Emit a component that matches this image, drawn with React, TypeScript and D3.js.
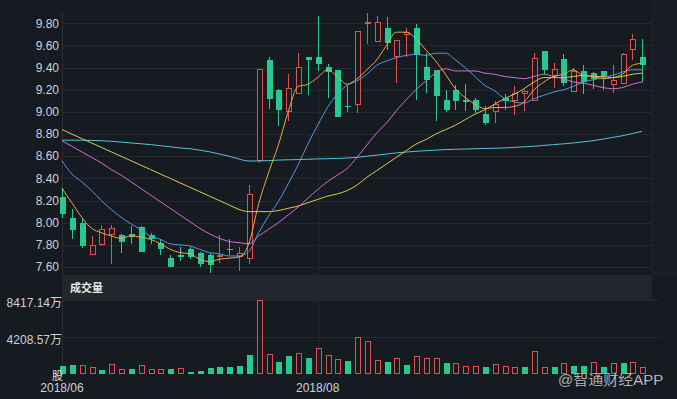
import * as d3 from "d3";
import { useEffect, useRef } from "react";

// daily candles, 2018/06 .. 2018/09 (index 26 = first trading day of 2018/08)
const opens = [
  8.23, 8.04, 8.0, 7.71, 7.8, 7.89, 7.89, 7.9, 7.96, 7.89,
  7.82, 7.68, 7.71, 7.76, 7.73, 7.71, 7.7, 7.76, 7.69, 7.67,
  8.56, 9.47, 9.2, 9.0, 9.16, 9.5, 9.5, 9.41, 9.38, 9.05,
  9.06, 9.79, 9.63, 9.76, 9.5, 9.69, 9.76, 9.41, 9.38, 9.11,
  9.2, 9.11, 9.11, 8.98, 9.0, 9.13, 9.1, 9.16, 9.1, 9.55,
  9.32, 9.48, 9.18, 9.37, 9.35, 9.37, 9.24, 9.25, 9.56, 9.5,
];
const highs = [
  8.31, 8.12, 8.04, 7.88, 7.98, 7.98, 7.9, 7.97, 7.97, 7.91,
  7.85, 7.71, 7.78, 7.78, 7.74, 7.73, 7.89, 7.85, 7.78, 8.34,
  9.39, 9.5, 9.21, 9.34, 9.53, 9.5, 9.87, 9.43, 9.38, 9.23,
  9.73, 9.89, 9.87, 9.86, 9.65, 9.76, 9.79, 9.53, 9.38, 9.2,
  9.24, 9.25, 9.13, 9.05, 9.1, 9.16, 9.23, 9.2, 9.53, 9.55,
  9.44, 9.52, 9.4, 9.42, 9.36, 9.37, 9.42, 9.53, 9.7, 9.66,
];
const lows = [
  8.04, 7.85, 7.77, 7.71, 7.79, 7.63, 7.73, 7.81, 7.74, 7.81,
  7.71, 7.6, 7.65, 7.67, 7.6, 7.55, 7.64, 7.71, 7.56, 7.63,
  8.54, 9.03, 8.87, 8.92, 9.16, 9.15, 9.37, 9.13, 8.95, 9.0,
  8.99, 9.61, 9.63, 9.56, 9.26, 9.5, 9.11, 9.17, 8.92, 9.0,
  9.02, 9.01, 8.99, 8.88, 8.9, 9.02, 8.97, 9.01, 9.1, 9.34,
  9.22, 9.23, 9.18, 9.16, 9.21, 9.2, 9.17, 9.25, 9.47, 9.27,
];
const closes = [
  8.08, 7.93, 7.79, 7.8, 7.94, 7.95, 7.83, 7.87, 7.74, 7.85,
  7.76, 7.6, 7.69, 7.69, 7.63, 7.62, 7.71, 7.75, 7.73, 8.26,
  9.39, 9.12, 9.02, 9.22, 9.41, 9.47, 9.43, 9.36, 8.95, 9.04,
  9.73, 9.81, 9.81, 9.62, 9.65, 9.72, 9.51, 9.29, 9.14, 9.02,
  9.1, 9.09, 9.02, 8.9, 9.07, 9.1, 9.17, 9.19, 9.49, 9.38,
  9.39, 9.26, 9.37, 9.27, 9.3, 9.32, 9.29, 9.52, 9.66, 9.42,
];

const ma5 = [
  8.31, 8.18, 8.05, 7.95, 7.91, 7.88, 7.86, 7.88, 7.87, 7.85,
  7.81, 7.76, 7.73, 7.72, 7.67, 7.65, 7.67, 7.68, 7.69, 7.81,
  8.17, 8.45, 8.7, 9.0, 9.23, 9.25, 9.31, 9.38, 9.32, 9.25,
  9.3, 9.38, 9.47, 9.6, 9.72, 9.72, 9.66, 9.56, 9.46, 9.34,
  9.21, 9.13, 9.07, 9.03, 9.04, 9.04, 9.05, 9.09, 9.2, 9.27,
  9.32, 9.34, 9.38, 9.33, 9.32, 9.3, 9.31, 9.34, 9.42, 9.44,
];
const ma10 = [
  8.56, 8.44, 8.37, 8.29, 8.2, 8.12, 8.05, 7.99, 7.94, 7.88,
  7.85, 7.81, 7.8, 7.79, 7.76, 7.73, 7.72, 7.7, 7.7, 7.74,
  7.91, 8.06, 8.19, 8.35, 8.52, 8.71, 8.88, 9.04, 9.16, 9.24,
  9.28, 9.34, 9.42, 9.46, 9.49, 9.51, 9.52, 9.51, 9.53, 9.53,
  9.47, 9.4, 9.32, 9.24, 9.19, 9.12, 9.09, 9.08, 9.12, 9.15,
  9.18, 9.2, 9.23, 9.27, 9.29, 9.31, 9.33, 9.36, 9.38, 9.38,
];
const ma20 = [
  8.74, 8.69, 8.64, 8.59, 8.54, 8.48, 8.43, 8.37, 8.31, 8.25,
  8.19, 8.13, 8.07, 8.01, 7.95, 7.9, 7.86, 7.83, 7.82, 7.81,
  7.88, 7.94, 8.0, 8.07, 8.14, 8.22, 8.3, 8.37, 8.43, 8.49,
  8.59, 8.7, 8.81, 8.9, 9.01, 9.11, 9.2, 9.28, 9.35, 9.39,
  9.37, 9.37, 9.37, 9.35, 9.34, 9.32, 9.31, 9.3, 9.32, 9.34,
  9.32, 9.3, 9.27, 9.26, 9.24, 9.22, 9.21, 9.22, 9.25, 9.27,
];
const ma30 = [
  8.84, 8.8, 8.76, 8.72, 8.68, 8.64, 8.6, 8.56, 8.52, 8.48,
  8.44, 8.4, 8.36, 8.32, 8.28, 8.24, 8.2, 8.16, 8.12, 8.1,
  8.1, 8.1, 8.11, 8.13, 8.15, 8.18, 8.21, 8.24, 8.26, 8.29,
  8.34, 8.41, 8.47, 8.53, 8.59, 8.65, 8.71, 8.75, 8.8, 8.84,
  8.88, 8.93, 8.98, 9.02, 9.07, 9.12, 9.16, 9.21, 9.27, 9.31,
  9.31, 9.31, 9.32, 9.33, 9.32, 9.32, 9.31, 9.32, 9.34, 9.35,
];
const ma60 = [
  8.745, 8.745, 8.745, 8.743, 8.74, 8.735, 8.728, 8.72, 8.713, 8.705,
  8.695, 8.685, 8.675, 8.668, 8.655, 8.64, 8.62, 8.6, 8.575, 8.557,
  8.558, 8.56, 8.565, 8.568, 8.57, 8.573, 8.576, 8.578, 8.58, 8.584,
  8.59, 8.6, 8.61, 8.62, 8.63, 8.638, 8.645, 8.65, 8.655, 8.66,
  8.663, 8.665, 8.668, 8.67, 8.672, 8.675, 8.68, 8.685, 8.69, 8.698,
  8.705, 8.712, 8.72, 8.73, 8.74, 8.755, 8.77, 8.785, 8.805, 8.825,
];

// volume in 万股, and whether its bar is drawn red
const volumes = [
  870, 980, 980, 790, 420, 1170, 600, 600, 1020, 570,
  570, 570, 680, 260, 340, 720, 790, 790, 940, 2190,
  8417.14, 2300, 1400, 2080, 2380, 1780, 2950, 2150, 1700, 1470,
  4190, 3700, 1550, 1400, 1810, 1060, 2040, 1850, 1850, 1250,
  1280, 870, 870, 760, 1100, 910, 760, 760, 2570, 790,
  760, 1250, 910, 910, 1360, 760, 1250, 1250, 1360, 760,
];
const volUp = "ggrrgrrgrrrgrgggggggrrggrgrrrgrrrgrgrrrgrrrgrrrgrrgrggrgrgrr"
  .split("")
  .map((c) => c === "r");

const priceTicks = [7.6, 7.8, 8.0, 8.2, 8.4, 8.6, 8.8, 9.0, 9.2, 9.4, 9.6, 9.8];
const volTicks = [4208.57, 8417.14];
const volTickLabels = ["4208.57万", "8417.14万"];
const xTickIndex = [0, 26];
const xTickLabels = ["2018/06", "2018/08"];

const W = 677;
const H = 399;
const LEFT = 62;
const RIGHT = 652;
const P_TOP = 13;
const P_BOTTOM = 275;
const BAND_BOTTOM = 300;
const V_BOTTOM = 374;

const BG = "#161a21";
const GRID = "#232830";
const TEXT = "#cfd2d7";
const RED = "#e0514d";
const GREEN = "#26c98f";
const FONT = "'Liberation Sans', Arial, 'Noto Sans CJK SC', sans-serif";

const lines = [
  { values: ma60, color: "#55c5d6" },
  { values: ma30, color: "#e3c84e" },
  { values: ma20, color: "#d36fd4" },
  { values: ma10, color: "#4b9de6" },
  { values: ma5, color: "#f2a548" },
];

export default function App() {
  const svgRef = useRef<SVGSVGElement>(null);

  useEffect(() => {
    document.body.style.margin = "0";
    if (!svgRef.current) return;
    const svg = d3.select(svgRef.current);
    svg.selectAll("*").remove();

    const x = d3.scaleLinear().domain([0, closes.length]).range([LEFT, RIGHT]);
    const y = d3.scaleLinear().domain([7.528, 9.893]).range([P_BOTTOM, P_TOP]);
    const vy = d3.scaleLinear().domain([0, 8417.14]).range([V_BOTTOM, BAND_BOTTOM]);
    const px = (i: number) => Math.round(x(i));

    svg.append("rect").attr("width", W).attr("height", H).attr("fill", BG);
    svg
      .append("rect")
      .attr("x", RIGHT)
      .attr("width", W - RIGHT)
      .attr("height", P_BOTTOM)
      .attr("fill", "#191d24");

    // grid
    svg
      .selectAll(".pgrid")
      .data(priceTicks)
      .enter()
      .append("line")
      .attr("x1", LEFT)
      .attr("x2", RIGHT)
      .attr("y1", (d) => Math.round(y(d)) + 0.5)
      .attr("y2", (d) => Math.round(y(d)) + 0.5)
      .attr("stroke", GRID);

    svg
      .selectAll(".vgrid")
      .data(volTicks)
      .enter()
      .append("line")
      .attr("x1", LEFT)
      .attr("x2", 660)
      .attr("y1", (d) => Math.round(vy(d)) + 0.5)
      .attr("y2", (d) => Math.round(vy(d)) + 0.5)
      .attr("stroke", GRID);

    svg
      .selectAll(".xgrid")
      .data(xTickIndex.slice(1))
      .enter()
      .append("line")
      .attr("x1", (d) => px(d) + 0.5)
      .attr("x2", (d) => px(d) + 0.5)
      .attr("y1", P_TOP)
      .attr("y2", V_BOTTOM)
      .attr("stroke", GRID);

    svg
      .append("line")
      .attr("x1", LEFT + 0.5)
      .attr("x2", LEFT + 0.5)
      .attr("y1", P_TOP)
      .attr("y2", V_BOTTOM)
      .attr("stroke", "#2a2f38");
    svg
      .append("line")
      .attr("x1", RIGHT + 0.5)
      .attr("x2", RIGHT + 0.5)
      .attr("y1", P_TOP)
      .attr("y2", P_BOTTOM)
      .attr("stroke", "#20252d");

    // 成交量 band
    svg
      .append("rect")
      .attr("x", LEFT)
      .attr("y", P_BOTTOM)
      .attr("width", RIGHT - LEFT)
      .attr("height", BAND_BOTTOM - P_BOTTOM)
      .attr("fill", "#23272d");
    svg
      .append("text")
      .attr("x", 70)
      .attr("y", 291.5)
      .attr("fill", "#e8e8e8")
      .attr("font-size", 11)
      .attr("font-weight", "bold")
      .attr("font-family", FONT)
      .text("成交量");

    // candles
    const g = svg.append("g");
    closes.forEach((c, i) => {
      const o = opens[i];
      const up = c >= o;
      const cx = px(i);
      const color = up ? RED : GREEN;
      g.append("line")
        .attr("x1", cx + 0.5)
        .attr("x2", cx + 0.5)
        .attr("y1", Math.round(y(highs[i])))
        .attr("y2", Math.round(y(lows[i])))
        .attr("stroke", color);
      const top = Math.round(y(Math.max(o, c)));
      const bot = Math.round(y(Math.min(o, c)));
      if (up) {
        g.append("rect")
          .attr("x", cx - 1.5)
          .attr("y", top + 0.5)
          .attr("width", 5)
          .attr("height", Math.max(bot - top - 1, 1))
          .attr("fill", BG)
          .attr("stroke", color);
      } else {
        g.append("rect")
          .attr("x", cx - 2)
          .attr("y", top)
          .attr("width", 6)
          .attr("height", Math.max(bot - top, 1))
          .attr("fill", color);
      }
    });

    // moving averages
    lines.forEach((l) => {
      const gen = d3
        .line<number>()
        .x((_, i) => x(i))
        .y((d) => y(d))
        .curve(d3.curveMonotoneX);
      svg
        .append("path")
        .datum(l.values)
        .attr("fill", "none")
        .attr("stroke", l.color)
        .attr("stroke-width", 1)
        .attr("d", gen);
    });

    // volume bars
    const vg = svg.append("g");
    volumes.forEach((v, i) => {
      const cx = px(i);
      const top = Math.round(vy(v));
      if (volUp[i]) {
        vg.append("rect")
          .attr("x", cx - 1.5)
          .attr("y", top + 0.5)
          .attr("width", 5)
          .attr("height", V_BOTTOM - top - 1)
          .attr("fill", "none")
          .attr("stroke", RED);
      } else {
        vg.append("rect")
          .attr("x", cx - 2)
          .attr("y", top)
          .attr("width", 6)
          .attr("height", V_BOTTOM - top)
          .attr("fill", GREEN);
      }
    });

    // labels
    svg
      .selectAll(".ylab")
      .data(priceTicks)
      .enter()
      .append("text")
      .attr("x", 59)
      .attr("y", (d) => y(d))
      .attr("dy", "0.35em")
      .attr("text-anchor", "end")
      .attr("fill", TEXT)
      .attr("font-size", 12)
      .attr("font-family", FONT)
      .text((d) => d.toFixed(2));

    svg
      .selectAll(".vlab")
      .data(volTicks)
      .enter()
      .append("text")
      .attr("x", 62)
      .attr("y", (d) => vy(d) + 2.5)
      .attr("dy", "0.35em")
      .attr("text-anchor", "end")
      .attr("fill", TEXT)
      .attr("font-size", 12)
      .attr("font-family", FONT)
      .text((_, i) => volTickLabels[i]);

    svg
      .append("text")
      .attr("x", 63)
      .attr("y", 380)
      .attr("text-anchor", "end")
      .attr("fill", "#e4e4e4")
      .attr("font-size", 11)
      .attr("font-family", FONT)
      .text("股");

    svg
      .selectAll(".xlab")
      .data(xTickIndex)
      .enter()
      .append("text")
      .attr("x", (d) => x(d))
      .attr("y", 392)
      .attr("text-anchor", "middle")
      .attr("fill", TEXT)
      .attr("font-size", 12)
      .attr("font-family", FONT)
      .text((_, i) => xTickLabels[i]);

    // watermark
    svg
      .append("text")
      .attr("x", 558)
      .attr("y", 385)
      .attr("fill", "rgba(240,240,240,0.9)")
      .attr("stroke", "rgba(0,0,0,0.35)")
      .attr("stroke-width", 0.6)
      .attr("font-size", 15)
      .attr("font-family", FONT)
      .text("@智通财经APP");
  }, []);

  return (
    <svg
      ref={svgRef}
      width={W}
      height={H}
      style={{ display: "block", position: "absolute", left: 0, top: 0 }}
    />
  );
}
